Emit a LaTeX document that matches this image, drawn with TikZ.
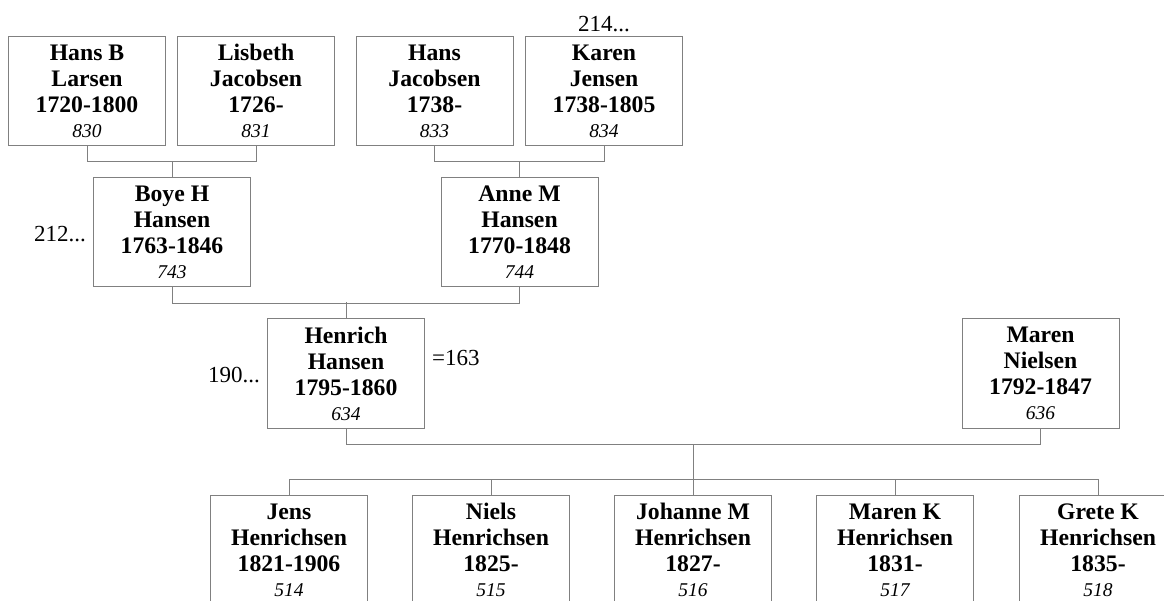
\documentclass[tikz,border=0pt]{standalone}
\usepackage{fontspec}
\setmainfont{Liberation Serif}
\usetikzlibrary{calc}
\newcommand{\pers}[4]{#1\\#2\\#3\\[-1pt]\fontsize{19.5}{24}\selectfont\mdseries\itshape #4}
\tikzset{
  person/.style={draw=black!50, line width=1pt, minimum width=157pt, minimum height=109pt, inner sep=0pt, align=center, text=black, font=\fontsize{23.7}{26}\selectfont\bfseries},
  link/.style={draw=black!50, line width=1pt},
  lbl/.style={inner sep=0pt, font=\fontsize{23}{26}\selectfont}
}
\begin{document}
\begin{tikzpicture}[x=1pt,y=-1pt]
\useasboundingbox (0,0) rectangle (1164,601);
\node[person] (hb) at (87,91) {\pers{Hans B}{Larsen}{1720-1800}{830}};
\node[person] (lj) at (256,91) {\pers{Lisbeth}{Jacobsen}{1726-}{831}};
\node[person] (hj) at (434.5,91) {\pers{Hans}{Jacobsen}{1738-}{833}};
\node[person] (kj) at (604,91) {\pers{Karen}{Jensen}{1738-1805}{834}};
\node[person] (bh) at (172,232.5) {\pers{Boye H}{Hansen}{1763-1846}{743}};
\node[person] (am) at (519.5,232.5) {\pers{Anne M}{Hansen}{1770-1848}{744}};
\node[person] (hh) at (346,373.5) {\pers{Henrich}{Hansen}{1795-1860}{634}};
\node[person] (mn) at (1040.5,373.5) {\pers{Maren}{Nielsen}{1792-1847}{636}};
\node[person] (c1) at (289,550) {\pers{Jens}{Henrichsen}{1821-1906}{514}};
\node[person] (c2) at (491,550) {\pers{Niels}{Henrichsen}{1825-}{515}};
\node[person] (c3) at (693,550) {\pers{Johanne M}{Henrichsen}{1827-}{516}};
\node[person] (c4) at (895,550) {\pers{Maren K}{Henrichsen}{1831-}{517}};
\node[person] (c5) at (1098,550) {\pers{Grete K}{Henrichsen}{1835-}{518}};

\node[lbl, anchor=south] (l214) at (604,32) {214...};
\node[lbl, anchor=east] (l212) at (86,234) {212...};
\node[lbl, anchor=east] (l190) at (260,375.5) {190...};
\node[lbl, anchor=west] (l163) at (432,357.5) {=163};

\draw[link] (hb.south) -- ++(0,16) coordinate (a1) -| (lj.south);
\draw[link] (bh.north) -- (bh.north |- a1);
\draw[link] (hj.south) -- ++(0,16) -| (kj.south);
\draw[link] (am.north) -- ++(0,-16);
\draw[link] (bh.south) -- ++(0,16) -| (am.south);
\draw[link] (hh.north) -- ++(0,-16);
\draw[link] (hh.south) -- ++(0,16) coordinate (a2) -| (mn.south);
\draw[link] (c3.north |- a2) -- (c3.north);
\draw[link] (c1.north) -- ++(0,-16) -| (c5.north);
\foreach \c in {c2,c4} \draw[link] (\c.north) -- ++(0,-16);
\end{tikzpicture}
\end{document}
